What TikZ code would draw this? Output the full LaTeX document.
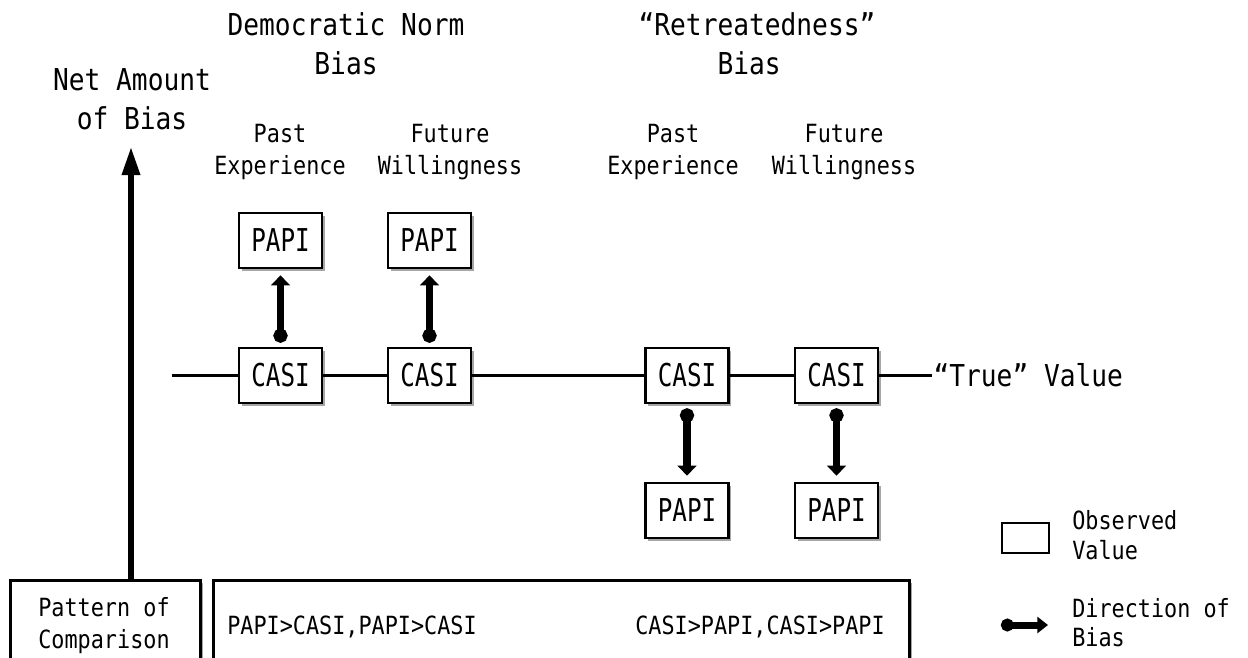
\documentclass[tikz,border=0pt]{standalone}
\usepackage{fontspec}
\newfontfamily\fontT[FakeStretch=0.87]{DejaVu Sans Mono}
\newfontfamily\fontB[FakeStretch=0.77]{DejaVu Sans Mono}
\usetikzlibrary{arrows.meta,shadows}
\begin{document}
\begin{tikzpicture}[x=0.75pt,y=-0.75pt,
  titletxt/.style={font=\fontT\fontsize{22.6}{29.25}\selectfont, align=center, inner sep=0pt},
  smalltxt/.style={font=\fontT\fontsize{18.8}{24}\selectfont, align=center, inner sep=0pt},
  boxshadow/.style={drop shadow={shadow xshift=2pt,shadow yshift=-2pt,fill=black!35,opacity=1}},
  obs/.style={draw, line width=2pt, fill=white, boxshadow, minimum width=62.25pt, minimum height=41.25pt, inner sep=0pt,
    font=\fontB\fontsize{23.6}{28}\selectfont},
  mainline/.style={line width=2pt},
  biasarr/.style={line width=5.5pt, {Circle[length=10.5pt]}-{Triangle[width=14pt,length=7.5pt]}, shorten <=3pt, shorten >=4.5pt},
  axisarr/.style={line width=4pt, -{Triangle[width=13pt,length=21pt]}},
  legarr/.style={line width=5.25pt, {Circle[length=9.5pt]}-{Triangle[width=12pt,length=8pt]}},
  bigbox/.style={draw, line width=2pt, fill=white, boxshadow, anchor=north west, inner sep=0pt}
]
\clip (0,0) rectangle (1248,657);
\fill[white] (0,0) rectangle (1248,657);

% titles
\node[titletxt] (t1) at (346,44) {Democratic Norm\\Bias};
\node[titletxt] (t2) at (757,44) {“Retreatedness”\\Bias\hphantom{x}};
\node[titletxt] (yl) at (132,99) {Net Amount\\of Bias};

% column labels
\node[smalltxt] (c1) at (280,152) {Past\\Experience};
\node[smalltxt] (c2) at (450,152) {Future\\Willingness};
\node[smalltxt] (c3) at (673,152) {Past\\Experience};
\node[smalltxt] (c4) at (844,152) {Future\\Willingness};

% main line and true value
\coordinate (lstart) at (172,375.5);
\node[titletxt, anchor=west, inner sep=1pt] (truev) at (932,375.5) {“True” Value};

\node[obs] (papiA) at (280.5,240.5) {PAPI};
\node[obs] (papiB) at (429.5,240.5) {PAPI};
\node[obs] (casiA) at (280.5,375.5) {CASI};
\node[obs] (casiB) at (429.5,375.5) {CASI};
\node[obs] (casiC) at (687,375.5) {CASI};
\node[obs] (casiD) at (836.5,375.5) {CASI};
\node[obs] (papiC) at (687,510.5) {PAPI};
\node[obs] (papiD) at (836.5,510.5) {PAPI};

\draw[mainline] (lstart) -- (casiA.west) (casiA.east) -- (casiB.west)
  (casiB.east) -- (casiC.west) (casiC.east) -- (casiD.west) (casiD.east) -- (truev.west);

% bias arrows
\draw[biasarr] (casiA.north) -- (papiA.south);
\draw[biasarr] (casiB.north) -- (papiB.south);
\draw[biasarr] (casiC.south) -- (papiC.north);
\draw[biasarr] (casiD.south) -- (papiD.north);

% axis arrow
\coordinate (axbot) at (131,579);
\coordinate (axtop) at (131,147);
\draw[axisarr] (axbot) -- (axtop);

% bottom boxes
\node[bigbox, minimum width=142.5pt, minimum height=90pt] (patbox) at (9,579) {};
\node[bigbox, minimum width=522pt, minimum height=90pt] (cmpbox) at (212,579) {};
\node[smalltxt, align=center] (pat) at (104,626) {Pattern of\\Comparison};
\node[smalltxt, anchor=west] (cmp1) at (227,627) {PAPI>CASI,PAPI>CASI};
\node[smalltxt, anchor=east] (cmp2) at (885,627) {CASI>PAPI,CASI>PAPI};

% legend
\node[draw, line width=2pt, minimum width=35.25pt, minimum height=22.5pt, inner sep=0pt] (legbox) at (1025.5,538) {};
\node[smalltxt, align=left, anchor=west, font=\fontT\fontsize{18.8}{22.5}\selectfont] (legobs) at (1072,535) {Observed\\Value};
\coordinate (legA) at (1001,625);
\coordinate (legB) at (1048,625);
\draw[legarr] (legA) -- (legB);
\node[smalltxt, align=left, anchor=west, font=\fontT\fontsize{18.8}{21.75}\selectfont] (legdir) at (1072,623) {Direction of\\Bias};
\end{tikzpicture}
\end{document}
